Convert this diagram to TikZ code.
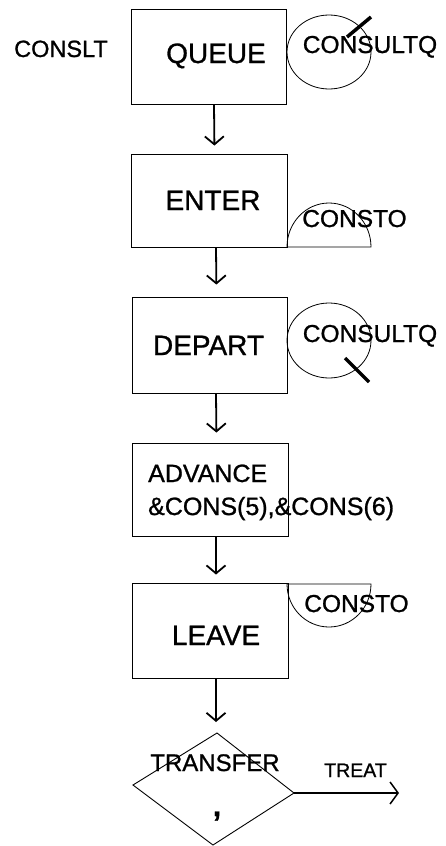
\documentclass[tikz,border=0pt]{standalone}
\usepackage{fontspec}
\setmainfont{Liberation Sans}[FakeBold=1]
\usetikzlibrary{arrows.meta,calc}
\begin{document}
\begin{tikzpicture}[x=1pt,y=-1pt,
  box/.style={draw, line width=0.9pt, inner sep=0pt},
  big/.style={font=\fontsize{28}{28}\selectfont, inner sep=0pt, anchor=base},
  mid/.style={font=\fontsize{24.5}{24.5}\selectfont, inner sep=0pt, anchor=base},
  adv/.style={font=\fontsize{25}{25}\selectfont, inner sep=0pt, anchor=base west},
  flow/.style={-{Straight Barb[length=8pt,width=19pt]}, line width=1.8pt},
  ring/.style={line width=0.8pt},
  cross/.style={line width=3.5pt}]
\useasboundingbox (0,0) rectangle (446,846);
% boxes
\node[box, minimum width=155pt, minimum height=95pt] (q) at (208.5,56.5) {};
\node[box, minimum width=156pt, minimum height=93pt] (e) at (209,200.5) {};
\node[box, minimum width=155pt, minimum height=96pt] (d) at (209.5,345) {};
\node[box, minimum width=156pt, minimum height=93pt] (a) at (210,489.5) {};
\node[box, minimum width=156pt, minimum height=95pt] (l) at (210,630.5) {};
% diamond
\coordinate (dt) at (217,733);
\coordinate (dl) at (133,785);
\coordinate (dr) at (294,793);
\coordinate (db) at (213,845);
\draw[line width=0.9pt] (dt) -- (dr) -- (db) -- (dl) -- cycle;
\coordinate (te) at (399,793);
% texts
\node[big] (qt) at (216,63) {QUEUE};
\node[mid, font=\fontsize{23.5}{23.5}\selectfont] (cl) at (61,57) {CONSLT};
\node[mid] (cq1) at (370,53) {CONSULTQ};
\node[big] (et) at (213,210) {ENTER};
\node[mid] (co1) at (354.5,227) {CONSTO};
\node[big] (dpt) at (208.5,355) {DEPART};
\node[mid] (cq2) at (370,342) {CONSULTQ};
\node[adv] (at1) at (148,482) {ADVANCE};
\node[adv] (at2) at (148,515) {\&CONS(5),\&CONS(6)};
\node[big] (lt) at (216,645) {LEAVE};
\node[mid] (co2) at (356.5,612) {CONSTO};
\node[mid, font=\fontsize{24}{24}\selectfont] (tt) at (215,771) {TRANSFER};
\node[mid, font=\fontsize{30}{30}\selectfont\bfseries] (cm) at (217,816) {,};
\node[mid, font=\fontsize{19.5}{19.5}\selectfont] (tr) at (355.5,777) {TREAT};
% rings and marks
\draw[ring] (329,52) ellipse [x radius=42pt, y radius=37pt];
\draw[cross] (347,37) -- (371,17);
\draw[ring] (287,247) arc[start angle=180, end angle=0, x radius=42pt, y radius=44pt] -- cycle;
\draw[ring] (329,340.5) ellipse [x radius=42pt, y radius=37.5pt];
\draw[cross] (345,358) -- (369,382);
\draw[ring] (287,584) arc[start angle=180, end angle=360, x radius=42pt, y radius=43pt] -- cycle;
% flow arrows
\draw[flow, shorten >=8pt] ($(q.south)+(5.5,0)$) -- ($(e.north)+(5.5,0)$);
\draw[flow, shorten >=12pt] ($(e.south)+(7,0)$) -- ($(d.north)+(7,0)$);
\draw[flow, shorten >=10pt] ($(d.south)+(6.5,0)$) -- ($(a.north)+(6.5,0)$);
\draw[flow, shorten >=8pt] ($(a.south)+(6,0)$) -- ($(l.north)+(6,0)$);
\draw[flow, shorten >=11pt] ($(l.south)+(6,0)$) -- ($(l.south|-dt)+(6,0)$);
\draw[flow, line width=1.5pt, -{Straight Barb[length=8pt,width=22pt]}] (dr) -- (te);
\end{tikzpicture}
\end{document}
